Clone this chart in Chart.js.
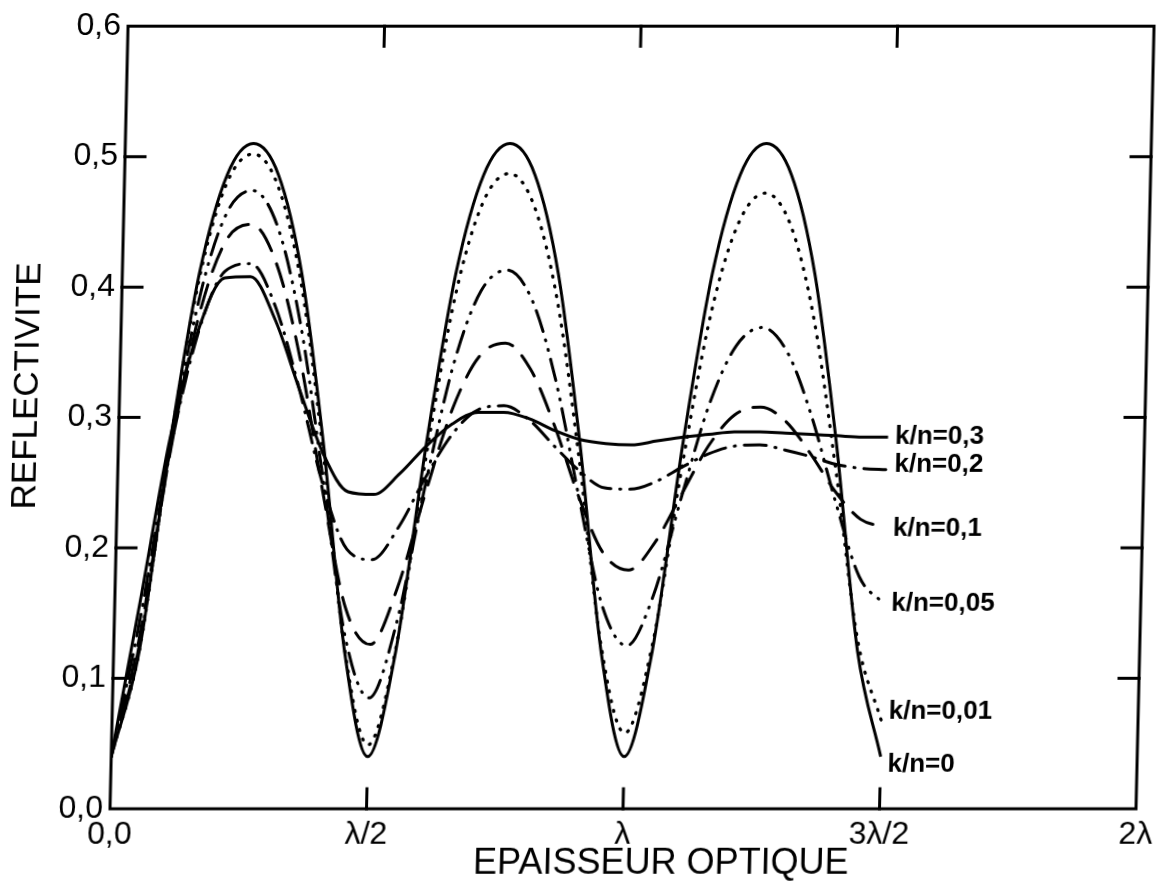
<!DOCTYPE html>
<html>
<head>
<meta charset="utf-8">
<title>Reflectivite</title>
<script src="https://cdn.jsdelivr.net/npm/chart.js@4.4.1/dist/chart.umd.min.js"></script>
<style>
  html, body { margin: 0; padding: 0; background: #fff; }
  /* the scanned figure leans a little to the right */
  #reflChart { display: block; transform: skewX(-1.32deg); transform-origin: 0 809px; }
</style>
</head>
<body>
<canvas id="reflChart" width="1164" height="889"></canvas>
<script>
// optical thickness, in units of lambda
var thickness = [0, 0.05, 0.1, 0.15, 0.2, 0.25, 0.3, 0.35, 0.4, 0.45, 0.5,
  0.55, 0.6, 0.65, 0.7, 0.75, 0.8, 0.85, 0.9, 0.95, 1,
  1.05, 1.1, 1.15, 1.2, 1.25, 1.3, 1.35, 1.4, 1.45, 1.5];

// reflectivity for each k/n
var refl_0 = [0.040, 0.121, 0.279, 0.410, 0.486, 0.510, 0.486, 0.410, 0.279, 0.121, 0.040,
  0.121, 0.279, 0.410, 0.486, 0.510, 0.486, 0.410, 0.279, 0.121, 0.040,
  0.121, 0.279, 0.410, 0.486, 0.510, 0.486, 0.410, 0.279, 0.121, 0.040];
var refl_001 = [0.040, 0.121, 0.277, 0.406, 0.480, 0.502, 0.477, 0.401, 0.272, 0.123, 0.049,
  0.123, 0.269, 0.393, 0.465, 0.487, 0.462, 0.388, 0.265, 0.125, 0.058,
  0.126, 0.263, 0.381, 0.450, 0.472, 0.448, 0.376, 0.259, 0.129, 0.067];
var refl_005 = [0.040, 0.126, 0.272, 0.389, 0.456, 0.474, 0.447, 0.371, 0.254, 0.133, 0.085,
  0.142, 0.248, 0.341, 0.397, 0.413, 0.390, 0.328, 0.239, 0.156, 0.125,
  0.164, 0.239, 0.310, 0.355, 0.369, 0.350, 0.301, 0.236, 0.178, 0.157];
var refl_01 = [0.040, 0.132, 0.270, 0.376, 0.435, 0.448, 0.418, 0.346, 0.244, 0.154, 0.126,
  0.169, 0.241, 0.307, 0.347, 0.357, 0.337, 0.293, 0.239, 0.196, 0.183,
  0.204, 0.241, 0.278, 0.302, 0.308, 0.297, 0.272, 0.243, 0.222, 0.216];
var refl_02 = [0.040, 0.145, 0.272, 0.364, 0.412, 0.418, 0.385, 0.322, 0.249, 0.199, 0.191,
  0.216, 0.254, 0.287, 0.306, 0.309, 0.298, 0.278, 0.259, 0.246, 0.245,
  0.251, 0.262, 0.272, 0.278, 0.279, 0.275, 0.270, 0.264, 0.261, 0.260];
var refl_03 = [0.040, 0.160, 0.283, 0.366, 0.407, 0.408, 0.375, 0.322, 0.272, 0.243, 0.241,
  0.257, 0.278, 0.295, 0.304, 0.304, 0.299, 0.290, 0.283, 0.280, 0.279,
  0.282, 0.285, 0.287, 0.289, 0.289, 0.288, 0.287, 0.286, 0.285, 0.285];

var curveLabels = ['k/n=0', 'k/n=0,01', 'k/n=0,05', 'k/n=0,1', 'k/n=0,2', 'k/n=0,3'];
var xTickLabels = ['0,0', '\u03bb/2', '\u03bb', '3\u03bb/2', '2\u03bb'];
var xTitle = 'EPAISSEUR OPTIQUE';
var yTitle = 'REFLECTIVITE';

var FONT = '"Liberation Sans", Arial, Helvetica, sans-serif';
Chart.defaults.font.family = FONT;
Chart.defaults.color = '#000';

function points(values) {
  return thickness.map(function (t, i) { return { x: t, y: values[i] }; });
}

// line styles: solid, dotted, dash-dot-dot, dashed, dash-dot, solid
var dashes = [[], [1, 9], [22, 9, 1, 9, 1, 9], [24, 14], [22, 9, 1, 9], []];
var series = [refl_0, refl_001, refl_005, refl_01, refl_02, refl_03];

var datasets = series.map(function (vals, i) {
  return {
    label: curveLabels[i],
    data: points(vals),
    borderColor: '#000',
    borderWidth: i === 1 ? 3.2 : 3,
    borderDash: dashes[i],
    borderCapStyle: dashes[i].length ? 'round' : 'butt',
    cubicInterpolationMode: 'monotone',
    pointRadius: 0,
    fill: false
  };
});

// frame with inward ticks, curve labels at the right and the axis titles
var TICK = 20;
var labelShift = [8, -10, 0, 2, -5, 0];
var framePlugin = {
  id: 'frame',
  afterDatasetsDraw: function (chart) {
    var ctx = chart.ctx, a = chart.chartArea;
    var x = chart.scales.x, y = chart.scales.y;
    ctx.save();
    ctx.strokeStyle = '#000';
    ctx.lineWidth = 3;
    ctx.lineCap = 'square';
    ctx.strokeRect(a.left, a.top, a.right - a.left, a.bottom - a.top);

    ctx.beginPath();
    y.ticks.forEach(function (t) {
      if (t.value <= y.min || t.value >= y.max) return;
      var py = y.getPixelForValue(t.value);
      ctx.moveTo(a.left, py); ctx.lineTo(a.left + TICK, py);
      ctx.moveTo(a.right, py); ctx.lineTo(a.right - TICK, py);
    });
    x.ticks.forEach(function (t) {
      if (t.value <= x.min || t.value >= x.max) return;
      var px = x.getPixelForValue(t.value);
      ctx.moveTo(px, a.bottom); ctx.lineTo(px, a.bottom - TICK);
      ctx.moveTo(px, a.top); ctx.lineTo(px, a.top + TICK);
    });
    ctx.stroke();

    ctx.fillStyle = '#000';
    ctx.font = 'bold 26px ' + FONT;
    ctx.textAlign = 'left';
    ctx.textBaseline = 'middle';
    chart.data.datasets.forEach(function (ds, i) {
      var last = ds.data[ds.data.length - 1];
      ctx.fillText(ds.label, x.getPixelForValue(last.x) + 7, y.getPixelForValue(last.y) + labelShift[i]);
    });

    ctx.font = '36px ' + FONT;
    ctx.textAlign = 'center';
    ctx.fillText(xTitle, 662, 864);

    ctx.font = '35px ' + FONT;
    ctx.translate(18, 386);
    ctx.rotate(-Math.PI / 2);
    ctx.fillText(yTitle, 0, 0);
    ctx.restore();
  }
};

var ctx = document.getElementById('reflChart').getContext('2d');
var reflChart = new Chart(ctx, {
  type: 'line',
  data: { datasets: datasets },
  options: {
    responsive: false,
    animation: false,
    devicePixelRatio: 1,
    events: [],
    layout: { padding: { top: 24, right: 28, left: 0, bottom: 0 } },
    plugins: {
      legend: { display: false },
      tooltip: { enabled: false }
    },
    scales: {
      x: {
        type: 'linear',
        min: 0, max: 2,
        grid: { display: false, drawTicks: false },
        border: { display: false },
        ticks: {
          stepSize: 0.5,
          autoSkip: false,
          maxRotation: 0,
          padding: 7,
          font: { size: 32 },
          callback: function (v) { return xTickLabels[Math.round(v * 2)]; }
        },
        afterFit: function (scale) { scale.height = 80; }
      },
      y: {
        min: 0, max: 0.6,
        grid: { display: false, drawTicks: false },
        border: { display: false },
        ticks: {
          stepSize: 0.1,
          padding: 7,
          font: { size: 32 },
          callback: function (v) { return v.toFixed(1).replace('.', ','); }
        },
        afterFit: function (scale) { scale.width = 110; }
      }
    }
  },
  plugins: [framePlugin]
});
</script>
</body>
</html>
